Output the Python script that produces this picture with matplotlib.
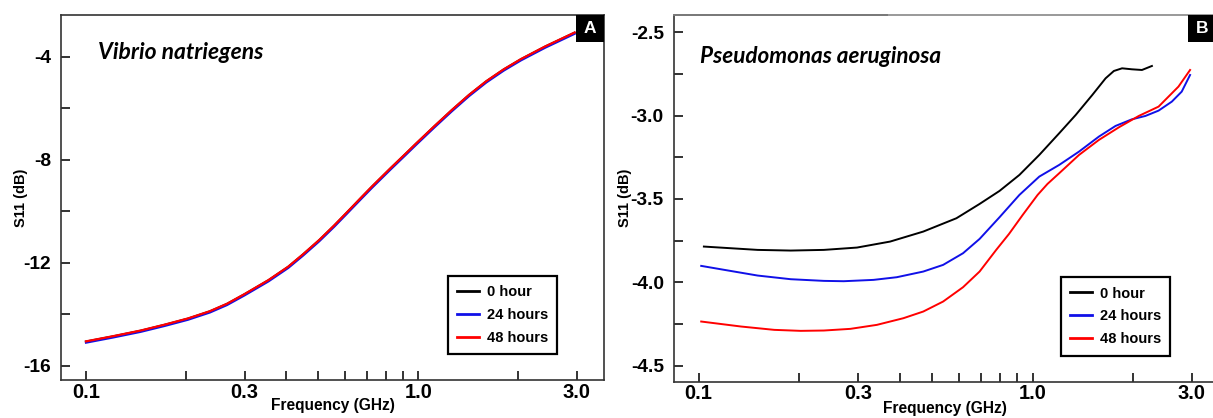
import matplotlib
matplotlib.use("Agg")
import matplotlib.pyplot as plt
from matplotlib.patches import Rectangle
import numpy as np

plt.rcParams['font.family'] = ['Liberation Sans', 'DejaVu Sans']
plt.rcParams['axes.unicode_minus'] = False

# ---------------- data ----------------
series_labels = ["0 hour", "24 hours", "48 hours"]
series_colors = ["#000000", "#1010e8", "#ff0000"]

# Panel A: Vibrio natriegens (three nearly identical curves)
freq_a = [0.1, 0.1205, 0.146, 0.1725, 0.2027, 0.2357, 0.2655, 0.2993, 0.354, 0.4058, 0.4497, 0.5035,
          0.558, 0.6097, 0.676, 0.726, 0.824, 0.916, 0.984, 1.118, 1.26, 1.42, 1.60, 1.805, 2.035,
          2.406, 2.95]
a_0h = [-15.06, -14.86, -14.64, -14.41, -14.17, -13.89, -13.60, -13.23, -12.68, -12.16, -11.68, -11.12,
        -10.56, -10.05, -9.45, -9.04, -8.34, -7.77, -7.38, -6.70, -6.08, -5.49, -4.96, -4.50, -4.10,
        -3.61, -3.07]
a_24h = [-15.10, -14.90, -14.68, -14.45, -14.21, -13.93, -13.64, -13.27, -12.72, -12.20, -11.72, -11.16,
         -10.60, -10.09, -9.49, -9.08, -8.38, -7.81, -7.42, -6.74, -6.12, -5.53, -5.00, -4.54, -4.14,
         -3.65, -3.11]
a_48h = [-15.05, -14.85, -14.63, -14.40, -14.16, -13.88, -13.59, -13.22, -12.67, -12.15, -11.67, -11.11,
         -10.55, -10.04, -9.44, -9.03, -8.33, -7.76, -7.37, -6.69, -6.07, -5.48, -4.95, -4.49, -4.09,
         -3.60, -3.06]

# Panel B: Pseudomonas aeruginosa
freq_b0 = [0.1037, 0.1502, 0.1887, 0.2371, 0.298, 0.3745, 0.4706, 0.5914, 0.694, 0.796, 0.913, 1.047,
           1.201, 1.346, 1.509, 1.654, 1.751, 1.853, 1.984, 2.125, 2.276]
b_0h = [-3.786, -3.806, -3.81, -3.806, -3.792, -3.756, -3.696, -3.616, -3.530, -3.452, -3.356, -3.236,
        -3.106, -2.996, -2.876, -2.776, -2.732, -2.716, -2.722, -2.726, -2.702]

freq_b24 = [0.1018, 0.1195, 0.1502, 0.1887, 0.2371, 0.2719, 0.334, 0.392, 0.4706, 0.5396, 0.619,
            0.694, 0.796, 0.913, 1.047, 1.201, 1.377, 1.579, 1.771, 1.984, 2.176, 2.383, 2.611,
            2.795, 2.961]
b_24h = [-3.902, -3.926, -3.96, -3.982, -3.992, -3.994, -3.986, -3.97, -3.936, -3.896, -3.826,
         -3.740, -3.610, -3.476, -3.366, -3.296, -3.216, -3.126, -3.062, -3.022, -3.002, -2.97, -2.916,
         -2.856, -2.756]

freq_b48 = [0.1018, 0.134, 0.1684, 0.2021, 0.2371, 0.2847, 0.3418, 0.4104, 0.4706, 0.5396, 0.619,
            0.6938, 0.778, 0.85, 0.934, 1.035, 1.108, 1.201, 1.377, 1.579, 1.813, 2.079, 2.383,
            2.733, 2.961]
b_48h = [-4.236, -4.266, -4.286, -4.292, -4.29, -4.28, -4.256, -4.216, -4.176, -4.116, -4.03,
         -3.936, -3.806, -3.71, -3.596, -3.476, -3.41, -3.346, -3.236, -3.146, -3.07, -3.002, -2.946,
         -2.826, -2.726]

x_major = [0.1, 0.3, 1.0, 3.0]
x_major_labels = ["0.1", "0.3", "1.0", "3.0"]
x_minor = [0.2, 0.4, 0.5, 0.6, 0.7, 0.8, 0.9, 2.0]

ya_major = [-16, -12, -8, -4]
ya_major_labels = ["-16", "-12", "-8", "-4"]
ya_minor = [-14, -10, -6]

yb_major = [-4.5, -4.0, -3.5, -3.0, -2.5]
yb_major_labels = ["-4.5", "-4.0", "-3.5", "-3.0", "-2.5"]
yb_minor = [-4.25, -3.75, -3.25, -2.75]

# ---------------- figure ----------------
W, H = 1213, 418
fig = plt.figure(figsize=(W / 100, H / 100), dpi=100)

axA = fig.add_axes([61 / W, 1 - 380 / H, 543 / W, 365 / H])
axB = fig.add_axes([673.5 / W, 1 - 381.5 / H, 543.5 / W, 366.5 / H])

spine_col = "#333333"


def style_axes(ax, xlim, ylim, ymaj, ymaj_lab, ymin):
    ax.set_xscale("log")
    ax.set_xlim(*xlim)
    ax.set_ylim(*ylim)
    ax.set_xticks(x_major)
    ax.set_xticklabels(x_major_labels)
    ax.set_xticks(x_minor, minor=True)
    ax.set_xticklabels([], minor=True)
    ax.set_yticks(ymaj)
    ax.set_yticklabels(ymaj_lab)
    ax.set_yticks(ymin, minor=True)
    ax.set_yticklabels([], minor=True)
    ax.tick_params(axis="both", which="both", direction="in", length=6.5, width=1.4,
                   color=spine_col, top=False, right=False)
    ax.tick_params(axis="x", which="both", pad=2, labelsize=14.5)
    ax.tick_params(axis="y", which="both", pad=7, labelsize=13.8)
    for lab in ax.get_xticklabels() + ax.get_yticklabels():
        lab.set_fontweight("bold")
    for s in ax.spines.values():
        s.set_color(spine_col)
        s.set_linewidth(1.2)
    ax.set_xlabel("Frequency (GHz)", fontsize=11.2, fontweight="bold")
    ax.set_ylabel("S11 (dB)", fontsize=10.5, fontweight="bold")


style_axes(axA, (0.0841, 3.617), (-16.55, -2.38), ya_major, ya_major_labels, ya_minor)
style_axes(axB, (0.0841, 3.565), (-4.596, -2.396), yb_major, yb_major_labels, yb_minor)

axA.xaxis.set_label_coords(0.5, -0.05)
axB.xaxis.set_label_coords(0.5, -0.053)
axA.yaxis.set_label_coords(-0.061, 0.5)
axB.yaxis.set_label_coords(-0.077, 0.5)

axB.spines["right"].set_visible(False)
axB.spines["top"].set_color("#888888")
axB.plot([0, 0.395], [1, 1], transform=axB.transAxes, color="#222222", lw=1.3,
         clip_on=False, solid_capstyle="butt")

# curves
for y, c, lab in zip([a_0h, a_24h, a_48h], series_colors, series_labels):
    axA.plot(freq_a, y, color=c, lw=1.6, label=lab)

axB.plot(freq_b0, b_0h, color=series_colors[0], lw=1.4, label=series_labels[0])
axB.plot(freq_b24, b_24h, color=series_colors[1], lw=1.4, label=series_labels[1])
axB.plot(freq_b48, b_48h, color=series_colors[2], lw=1.4, label=series_labels[2])

# species names
axA.text(0.068, 0.879, "Vibrio natriegens", transform=axA.transAxes, ha="left", va="baseline",
         fontsize=16.5, fontweight="bold", style="italic", family=["Lato", "DejaVu Sans"])
axB.text(0.049, 0.869, "Pseudomonas aeruginosa", transform=axB.transAxes, ha="left", va="baseline",
         fontsize=16.2, fontweight="bold", style="italic", family=["Lato", "DejaVu Sans"])

# panel letters
for ax, letter, wpx, hpx, axw, axh in [(axA, "A", 28, 27, 543, 365), (axB, "B", 29, 27, 543.5, 366.5)]:
    w = wpx / axw
    h = hpx / axh
    ax.add_patch(Rectangle((1 - w, 1 - h), w, h, transform=ax.transAxes, facecolor="black",
                           edgecolor="none", clip_on=False, zorder=5))
    ax.text(1 - w / 2, 1 - h / 2, letter, transform=ax.transAxes, ha="center", va="center",
            color="white", fontsize=12.5, fontweight="bold", zorder=6)

# legends
for ax, x0, y0 in [(axA, 0.7127, 0.285), (axB, 0.713, 0.285)]:
    leg = ax.legend(loc="upper left", bbox_to_anchor=(x0, y0), borderaxespad=0,
                    prop={"size": 10.5, "weight": "bold"}, handlelength=1.45,
                    handletextpad=0.55, labelspacing=0.6, borderpad=0.65,
                    fancybox=False, framealpha=1, edgecolor="black")
    leg.get_frame().set_linewidth(1.6)
    for line in leg.get_lines():
        line.set_linewidth(2.0)

fig.savefig("out.png", dpi=100)
